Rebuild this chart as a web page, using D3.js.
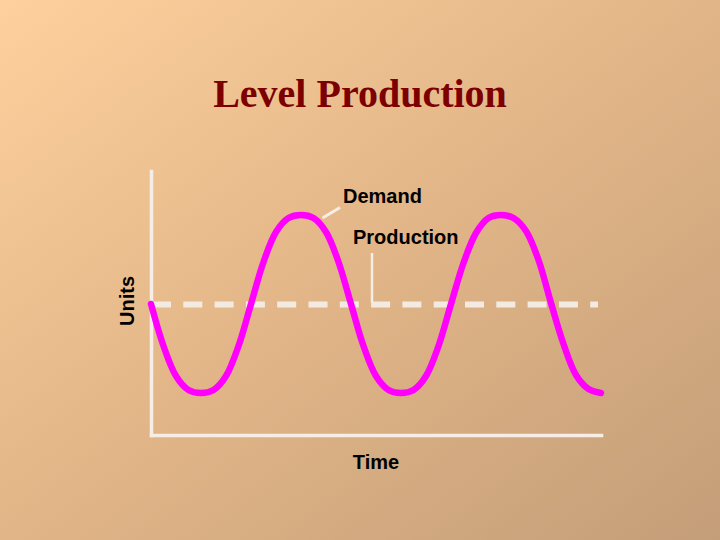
<!DOCTYPE html>
<html>
<head>
<meta charset="utf-8">
<script src="https://cdn.jsdelivr.net/npm/d3@7"></script>
<style>
  html, body { margin: 0; padding: 0; overflow: hidden; }
  svg { display: block; }
</style>
</head>
<body>
<script>
// ---- data ----
const title = "Level Production";
const xAxisLabel = "Time";
const yAxisLabel = "Units";
const demandLabel = "Demand";
const productionLabel = "Production";

// time points (periods)
const timePoints = [0, 0.5, 1, 1.5, 2, 2.5, 3, 3.5, 4, 4.5, 5, 5.5, 6, 6.5, 7, 7.5, 8, 8.5,
  9, 9.5, 10, 10.5, 11, 11.5, 12, 12.5, 13, 13.5, 14, 14.5, 15, 15.5, 16, 16.5, 17, 17.5, 18];
// demand (units)
const demandValues = [131, 89, 59, 45, 42, 45, 59, 89, 131, 173, 203, 217, 220, 217, 203, 173,
  131, 89, 59, 45, 42, 45, 59, 89, 131, 172, 202, 217, 220, 217, 204, 175,
  132, 91, 60, 46, 42];
// level production (units)
const productionLevel = 130.5;

const xDomain = [0, 18];
const yDomain = [0, 264];

// ---- drawing ----
const W = 720, H = 540;
const svg = d3.select("body").append("svg").attr("width", W).attr("height", H);

const defs = svg.append("defs");
const grad = defs.append("linearGradient").attr("id", "bg")
  .attr("x1", 0).attr("y1", 0).attr("x2", 1).attr("y2", 1);
grad.append("stop").attr("offset", "0%").attr("stop-color", "#fed09d");
grad.append("stop").attr("offset", "50%").attr("stop-color", "#e1b587");
grad.append("stop").attr("offset", "100%").attr("stop-color", "#c49e79");
svg.append("rect").attr("width", W).attr("height", H).attr("fill", "url(#bg)");

const x = d3.scaleLinear().domain(xDomain).range([151, 601]);
const y = d3.scaleLinear().domain(yDomain).range([435, 171]);

const axisColor = "#f6eee6";

// axes (no ticks)
const yAxis = d3.axisLeft(y).tickValues([]).tickSizeOuter(0);
const xAxis = d3.axisBottom(x).tickValues([]).tickSizeOuter(0);
const gy = svg.append("g").attr("transform", `translate(${x(0)},0)`).call(yAxis);
const gx = svg.append("g").attr("transform", `translate(0,${y(0)})`).call(xAxis);
[gx, gy].forEach(g => g.select(".domain")
  .attr("stroke", axisColor).attr("stroke-width", 3.5).attr("stroke-linecap", "square"));

// production level (dashed)
svg.append("line")
  .attr("x1", x(0) + 1).attr("x2", x(xDomain[1]) - 3)
  .attr("y1", y(productionLevel)).attr("y2", y(productionLevel))
  .attr("stroke", "#f3ebe2").attr("stroke-width", 6)
  .attr("stroke-dasharray", "19,12.3");

// demand curve
const data = timePoints.map((t, i) => ({ t, v: demandValues[i] }));
const line = d3.line().x(d => x(d.t)).y(d => y(d.v)).curve(d3.curveCatmullRom.alpha(0.5));
svg.append("path").datum(data)
  .attr("d", line)
  .attr("fill", "none")
  .attr("stroke", "#ff00ff")
  .attr("stroke-width", 6.5)
  .attr("stroke-linecap", "round")
  .attr("stroke-linejoin", "round");

// leader lines
svg.append("line")
  .attr("x1", x(6.86)).attr("y1", y(217))
  .attr("x2", x(7.56)).attr("y2", y(227.5))
  .attr("stroke", axisColor).attr("stroke-width", 3);
svg.append("line")
  .attr("x1", x(8.84)).attr("y1", y(182))
  .attr("x2", x(8.84)).attr("y2", y(productionLevel + 2))
  .attr("stroke", axisColor).attr("stroke-width", 2.5);

// text
const sans = "'Liberation Sans', Arial, sans-serif";
svg.append("text").text(title)
  .attr("x", 360).attr("y", 107).attr("text-anchor", "middle")
  .attr("font-family", "'Liberation Serif', 'Times New Roman', serif")
  .attr("font-weight", "bold").attr("font-size", 40).attr("fill", "#7d0000");

svg.append("text").text(demandLabel)
  .attr("x", 343).attr("y", 203)
  .attr("font-family", sans).attr("font-weight", "bold").attr("font-size", 20).attr("fill", "#000");
svg.append("text").text(productionLabel)
  .attr("x", 353).attr("y", 244)
  .attr("font-family", sans).attr("font-weight", "bold").attr("font-size", 20).attr("fill", "#000");
svg.append("text").text(xAxisLabel)
  .attr("x", 376).attr("y", 469).attr("text-anchor", "middle")
  .attr("font-family", sans).attr("font-weight", "bold").attr("font-size", 20).attr("fill", "#000");
svg.append("text").text(yAxisLabel)
  .attr("transform", "translate(133.5,301) rotate(-90)")
  .attr("text-anchor", "middle")
  .attr("font-family", sans).attr("font-weight", "bold").attr("font-size", 20).attr("fill", "#000");
</script>
</body>
</html>
